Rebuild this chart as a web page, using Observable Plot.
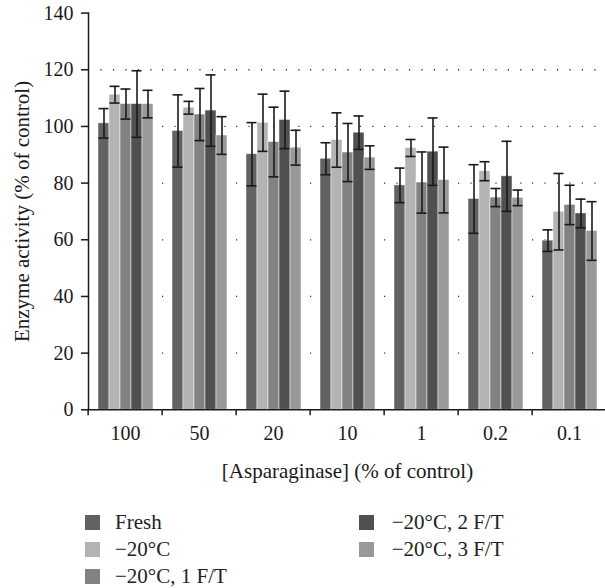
<!DOCTYPE html>
<html><head><meta charset="utf-8">
<script src="https://cdn.jsdelivr.net/npm/d3@7"></script>
<script src="https://cdn.jsdelivr.net/npm/@observablehq/plot@0.6"></script>
<style>
body{margin:0;background:#fff;}
#chart{position:relative;width:605px;font-family:"Liberation Serif",serif;color:#222;}
#legend{position:relative;width:605px;height:98px;font-size:21px;line-height:21px;}
#legend .sq{position:absolute;width:15px;height:15px;}
#legend .tx{position:absolute;white-space:nowrap;}
</style></head><body><div id="chart"></div><script>
const cats = ["100", "50", "20", "10", "1", "0.2", "0.1"];
const series = ["Fresh", "−20°C", "−20°C, 1 F/T", "−20°C, 2 F/T", "−20°C, 3 F/T"];
const colors = ["#626262", "#b3b3b3", "#828282", "#505050", "#999999"];
const fresh = [101.1, 98.4, 90.2, 88.6, 79.2, 74.4, 59.7];
const frozen = [111.2, 106.6, 101.3, 95.2, 92.4, 84.2, 69.9];
const ft1 = [107.9, 104.2, 94.5, 90.8, 80.2, 74.9, 72.3];
const ft2 = [107.9, 105.6, 102.3, 97.8, 91.1, 82.4, 69.3];
const ft3 = [107.9, 96.8, 92.5, 89.0, 81.1, 74.8, 63.1];
const freshSd = [5.2, 12.75, 11.15, 5.65, 6.1, 12.1, 3.8];
const frozenSd = [2.95, 2.25, 10.1, 9.6, 3.0, 3.35, 13.5];
const ft1Sd = [5.3, 9.2, 12.3, 10.25, 10.8, 3.2, 6.95];
const ft2Sd = [11.75, 12.6, 10.15, 5.9, 11.9, 12.35, 5.05];
const ft3Sd = [4.85, 6.65, 6.15, 4.15, 11.6, 2.75, 10.35];
const yTicks = [0, 20, 40, 60, 80, 100, 120, 140];
const gridTicks = [20, 40, 60, 80, 100, 120];

const values = [fresh, frozen, ft1, ft2, ft3];
const sds = [freshSd, frozenSd, ft1Sd, ft2Sd, ft3Sd];
const data = [];
cats.forEach((c, i) => series.forEach((s, j) => data.push({cat: c, series: s, value: values[j][i], sd: sds[j][i]})));

const W = 605, H = 490, mL = 85, mR = -3, mT = 12.6, mB = 80.7;
const bw = (W - mL - mR) / cats.length;
const dotGap = bw / 6;
const ink = "#1a1a1a";

const plot = Plot.plot({
  width: W, height: H,
  marginLeft: mL, marginRight: mR, marginTop: mT, marginBottom: mB,
  style: {fontFamily: "'Liberation Serif', serif", fontSize: "20px", color: ink, background: "white", overflow: "hidden"},
  fx: {domain: cats, padding: 0, label: null},
  x: {domain: series, paddingInner: 0, paddingOuter: 0.75, axis: null},
  y: {domain: [0, 140], label: null},
  color: {domain: series, range: colors},
  marks: [
    Plot.ruleY(gridTicks, {stroke: "#333", strokeWidth: 1.3, strokeDasharray: `1.2,${dotGap - 1.2}`, strokeDashoffset: -dotGap}),
    Plot.barY(data, {fx: "cat", x: "series", y: "value", fill: "series", stroke: "white", strokeWidth: 0.8, strokeOpacity: 0.6}),
    Plot.ruleX(data, {fx: "cat", x: "series", y1: d => d.value - d.sd, y2: d => d.value + d.sd, stroke: ink, strokeWidth: 1.6}),
    Plot.tickY(data, {fx: "cat", x: "series", y: d => d.value + d.sd, stroke: ink, strokeWidth: 1.6, insetLeft: 0.5, insetRight: 0.5}),
    Plot.tickY(data, {fx: "cat", x: "series", y: d => d.value - d.sd, stroke: ink, strokeWidth: 1.6, insetLeft: 0.5, insetRight: 0.5}),
    Plot.axisY({ticks: yTicks, tickSize: 7, tickPadding: 8, strokeWidth: 1.5, label: null}),
    Plot.axisY({ticks: [], label: "Enzyme activity (% of control)", labelAnchor: "center", labelArrow: "none", labelOffset: 74, fontSize: 21, dy: 5}),
    Plot.axisFx({anchor: "bottom", tickSize: 0, tickPadding: 16, label: null}),
    Plot.axisFx({anchor: "bottom", ticks: [], label: "[Asparaginase] (% of control)", labelAnchor: "center", labelArrow: "none", labelOffset: 68, fontSize: 21}),
    Plot.axisFx({anchor: "bottom", tickSize: 6, text: null, label: null, dx: -bw / 2, strokeWidth: 1.5}),
    Plot.frame({anchor: "left", facetAnchor: "left", stroke: ink, strokeWidth: 1.5}),
    Plot.ruleY([0], {stroke: ink, strokeWidth: 1.5})
  ]
});
const chart = document.getElementById("chart");
chart.appendChild(plot);

const legend = document.createElement("div");
legend.id = "legend";
const cols = [{sq: 85, tx: 115}, {sq: 359, tx: 391.7}];
const rows = [25, 51.7, 79];
series.forEach((s, k) => {
  const col = k < 3 ? 0 : 1, row = k < 3 ? k : k - 3;
  const sq = document.createElement("div");
  sq.className = "sq";
  sq.style.left = cols[col].sq + "px";
  sq.style.top = rows[row] + "px";
  sq.style.background = plot.scale("color").apply(s);
  const tx = document.createElement("div");
  tx.className = "tx";
  tx.style.left = cols[col].tx + "px";
  tx.style.top = (rows[row] + 15 - 17.6) + "px";
  tx.textContent = s;
  legend.appendChild(sq);
  legend.appendChild(tx);
});
chart.appendChild(legend);
</script></body></html>
